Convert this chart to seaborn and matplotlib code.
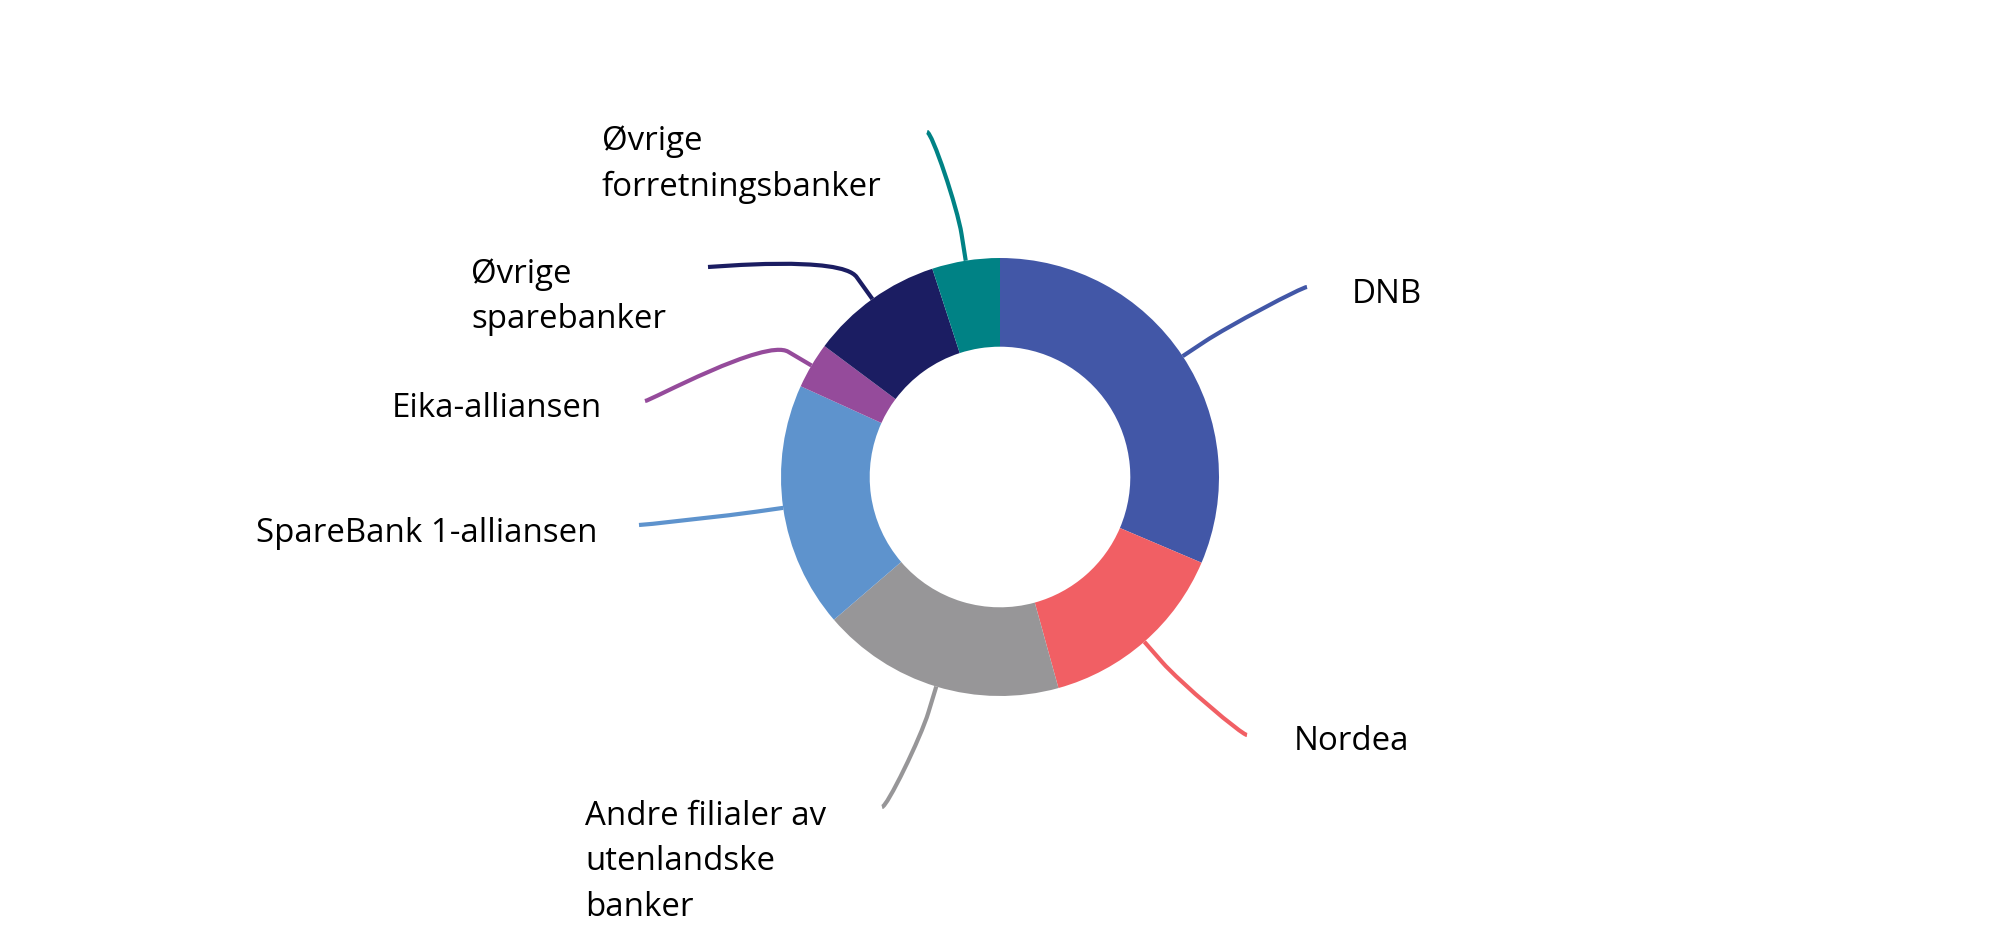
import matplotlib
matplotlib.use("Agg")
import matplotlib.pyplot as plt
from matplotlib.path import Path
from matplotlib.patches import PathPatch
import numpy as np
import seaborn as sns

# Market shares (per cent), clockwise from 12 o'clock
banks = ["DNB", "Nordea", "Andre filialer av\nutenlandske\nbanker",
         "SpareBank 1-alliansen", "Eika-alliansen",
         "Øvrige\nsparebanker", "Øvrige\nforretningsbanker"]
shares = [31.4, 14.3, 18.0, 18.1, 3.4, 9.8, 5.0]
colors = ["#4257A7", "#F15F64", "#979698", "#5E93CD", "#954B9B", "#1B1D62", "#008285"]

# label anchor (connector end) and text position (first baseline), pixels from top-left
ends = [(1307, 287), (1247, 735), (882, 807), (639, 525), (645, 401), (708, 267), (927, 132)]
texts = [(1352, 303, "left"), (1294, 750, "left"), (585, 825, "left"),
         (597, 542, "right"), (602, 417, "right"), (471, 283, "left"), (602, 150, "left")]
line_gap = 45.5

W, H = 2000, 946
cx, cy, R = 1000, 477, 219

sns.set_theme(style="white")
plt.rcParams["font.family"] = ["Open Sans", "DejaVu Sans"]
palette = sns.color_palette(colors)

fig = plt.figure(figsize=(W / 100, H / 100), dpi=100)
ax = fig.add_axes([0, 0, 1, 1])
ax.pie(shares, colors=palette, startangle=90, counterclock=False, radius=R,
       center=(cx, H - cy), wedgeprops=dict(width=R * 0.405, edgecolor="none", linewidth=0))
ax.set_xlim(0, W)
ax.set_ylim(0, H)
ax.set_aspect("equal")
ax.axis("off")

# connectors: radial stub + soft curve to label
cum = np.cumsum([0] + shares)
total = cum[-1]
for i, (name, col) in enumerate(zip(banks, palette)):
    mid = np.deg2rad((cum[i] + cum[i + 1]) / 2 / total * 360)
    d = np.array([np.sin(mid), np.cos(mid)])
    c = np.array([cx, H - cy])
    touch = c + R * d
    brk = c + (R + 27) * d
    ctrl2 = 2 * brk - touch
    ex, ey = ends[i]
    end = np.array([ex, H - ey])
    side = 5 if ex < cx else -5
    ctrl1 = end + np.array([side, 0])
    verts = [end, ctrl1, ctrl2, brk, touch]
    codes = [Path.MOVETO, Path.CURVE4, Path.CURVE4, Path.CURVE4, Path.LINETO]
    ax.add_patch(PathPatch(Path(verts, codes), facecolor="none", edgecolor=col,
                           linewidth=3.0, capstyle="butt"))
    # draw each line separately so the spacing matches the reference
    tx, ty, ha = texts[i]
    lines = name.split("\n")
    if len(lines) > 1:
        # left-aligned block
        for k, line in enumerate(lines):
            ax.text(tx, H - (ty + k * line_gap), line, ha="left", va="baseline",
                    fontsize=23.8, color="black")
    else:
        ax.text(tx, H - ty, name, ha=ha, va="baseline", fontsize=23.8, color="black")

fig.savefig("out.png", dpi=100, facecolor="white")
